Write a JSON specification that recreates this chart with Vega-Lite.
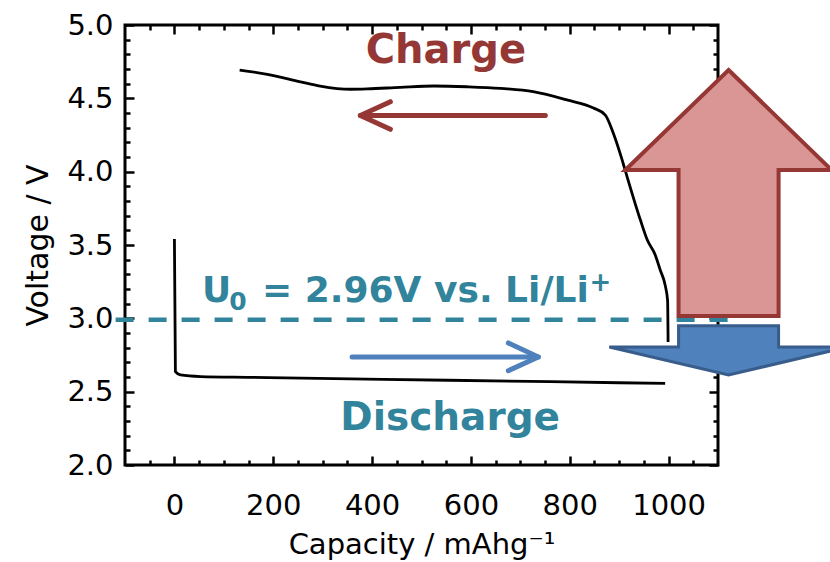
{
  "$schema": "https://vega.github.io/schema/vega-lite/v6.json",
  "autosize": "none",
  "width": 593,
  "height": 440,
  "padding": {"left": 125, "top": 25, "right": 112, "bottom": 97},
  "background": "white",
  "config": {
    "view": {"stroke": "black", "strokeWidth": 3},
    "axis": {"grid": false, "domain": false, "labelFlush": false, "labelOverlap": false, "labelBound": false}
  },
  "datasets": {
    "curves": [
      {"series": "charge", "i": 0, "cap": 132, "v": 4.693},
      {"series": "charge", "i": 1, "cap": 188, "v": 4.664},
      {"series": "charge", "i": 2, "cap": 255, "v": 4.613},
      {"series": "charge", "i": 3, "cap": 295, "v": 4.584},
      {"series": "charge", "i": 4, "cap": 356, "v": 4.562},
      {"series": "charge", "i": 5, "cap": 390, "v": 4.564},
      {"series": "charge", "i": 6, "cap": 457, "v": 4.575},
      {"series": "charge", "i": 7, "cap": 525, "v": 4.584},
      {"series": "charge", "i": 8, "cap": 592, "v": 4.579},
      {"series": "charge", "i": 9, "cap": 660, "v": 4.568},
      {"series": "charge", "i": 10, "cap": 726, "v": 4.545},
      {"series": "charge", "i": 11, "cap": 794, "v": 4.489},
      {"series": "charge", "i": 12, "cap": 848, "v": 4.434},
      {"series": "charge", "i": 13, "cap": 872, "v": 4.386},
      {"series": "charge", "i": 14, "cap": 888, "v": 4.264},
      {"series": "charge", "i": 15, "cap": 906, "v": 4.08},
      {"series": "charge", "i": 16, "cap": 913, "v": 4.0},
      {"series": "charge", "i": 17, "cap": 943, "v": 3.67},
      {"series": "charge", "i": 18, "cap": 957, "v": 3.534},
      {"series": "charge", "i": 19, "cap": 973, "v": 3.432},
      {"series": "charge", "i": 20, "cap": 983, "v": 3.33},
      {"series": "charge", "i": 21, "cap": 993, "v": 3.227},
      {"series": "charge", "i": 22, "cap": 998, "v": 3.12},
      {"series": "charge", "i": 23, "cap": 999, "v": 2.839},
      {"series": "discharge", "i": 0, "cap": 0, "v": 3.541},
      {"series": "discharge", "i": 1, "cap": 2, "v": 2.636},
      {"series": "discharge", "i": 2, "cap": 12, "v": 2.614},
      {"series": "discharge", "i": 3, "cap": 53, "v": 2.603},
      {"series": "discharge", "i": 4, "cap": 154, "v": 2.598},
      {"series": "discharge", "i": 5, "cap": 423, "v": 2.584},
      {"series": "discharge", "i": 6, "cap": 761, "v": 2.568},
      {"series": "discharge", "i": 7, "cap": 993, "v": 2.556}
    ],
    "upArrow": [
      {"i": 0, "cap": 1121.4, "v": 4.693},
      {"i": 1, "cap": 1330, "v": 4.011},
      {"i": 2, "cap": 1222.6, "v": 4.011},
      {"i": 3, "cap": 1222.6, "v": 3.016},
      {"i": 4, "cap": 1020.2, "v": 3.016},
      {"i": 5, "cap": 1020.2, "v": 4.011},
      {"i": 6, "cap": 912.4, "v": 4.011}
    ],
    "downArrow": [
      {"i": 0, "cap": 1020.2, "v": 2.95},
      {"i": 1, "cap": 1222.6, "v": 2.95},
      {"i": 2, "cap": 1222.6, "v": 2.805},
      {"i": 3, "cap": 1362.8, "v": 2.805},
      {"i": 4, "cap": 1121.4, "v": 2.614},
      {"i": 5, "cap": 880, "v": 2.805},
      {"i": 6, "cap": 1020.2, "v": 2.805}
    ],
    "chargeArrow": [
      {"part": "shaft", "i": 0, "cap": 750.6, "v": 4.383},
      {"part": "shaft", "i": 1, "cap": 376.3, "v": 4.383},
      {"part": "head", "i": 0, "cap": 437, "v": 4.477},
      {"part": "head", "i": 1, "cap": 376.3, "v": 4.383},
      {"part": "head", "i": 2, "cap": 437, "v": 4.289}
    ],
    "dischargeArrow": [
      {"part": "shaft", "i": 0, "cap": 359.5, "v": 2.737},
      {"part": "shaft", "i": 1, "cap": 736.4, "v": 2.737},
      {"part": "head", "i": 0, "cap": 675.7, "v": 2.832},
      {"part": "head", "i": 1, "cap": 736.4, "v": 2.737},
      {"part": "head", "i": 2, "cap": 675.7, "v": 2.643}
    ],
    "equilibrium": [{"from": -119, "to": 1141, "v": 2.99}]
  },
  "resolve": {"axis": {"x": "independent", "y": "independent"}},
  "layer": [
    {
      "data": {"name": "curves"},
      "mark": {"type": "line", "color": "black", "strokeWidth": 2.8, "strokeJoin": "round", "interpolate": "monotone"},
      "encoding": {
        "x": {"field": "cap", "type": "quantitative",
          "scale": {"domain": [-100, 1100], "nice": false, "zero": false},
          "axis": {"orient": "bottom", "values": [0, 200, 400, 600, 800, 1000], "format": "d", "ticks": false,
            "labelFont": "DejaVu Sans", "labelFontSize": 29, "labelColor": "black", "labelPadding": 26,
            "title": "Capacity / mAhg⁻¹", "titleFont": "DejaVu Sans", "titleFontSize": 29,
            "titleFontWeight": "normal", "titleColor": "black", "titlePadding": 10}},
        "y": {"field": "v", "type": "quantitative",
          "scale": {"domain": [2, 5], "nice": false, "zero": false},
          "axis": {"orient": "left", "values": [2, 2.5, 3, 3.5, 4, 4.5, 5], "format": ".1f", "ticks": false,
            "labelFont": "DejaVu Sans", "labelFontSize": 29, "labelColor": "black", "labelPadding": 12,
            "title": "Voltage / V", "titleFont": "DejaVu Sans", "titleFontSize": 30,
            "titleFontWeight": "normal", "titleColor": "black", "titlePadding": 13}},
        "detail": {"field": "series"},
        "order": {"field": "i", "type": "quantitative"}
      }
    },
    {
      "data": {"name": "equilibrium"},
      "mark": {"type": "rule", "color": "#31849B", "strokeWidth": 4.5, "strokeDash": [18, 15]},
      "encoding": {
        "x": {"field": "from", "type": "quantitative",
          "scale": {"domain": [-100, 1100], "nice": false, "zero": false},
          "axis": {"orient": "bottom", "values": [0, 200, 400, 600, 800, 1000], "labels": false,
            "ticks": true, "tickSize": -9, "tickWidth": 2.5, "tickColor": "black", "title": null}},
        "x2": {"field": "to"},
        "y": {"field": "v", "type": "quantitative",
          "scale": {"domain": [2, 5], "nice": false, "zero": false},
          "axis": {"orient": "left", "values": [2, 2.5, 3, 3.5, 4, 4.5, 5], "labels": false,
            "ticks": true, "tickSize": -9, "tickWidth": 2.5, "tickColor": "black", "title": null}}
      }
    },
    {
      "data": {"name": "upArrow"},
      "mark": {"type": "line", "interpolate": "linear-closed", "fill": "#D99694", "stroke": "#953735", "strokeWidth": 4, "strokeJoin": "miter"},
      "encoding": {
        "x": {"field": "cap", "type": "quantitative",
          "scale": {"domain": [-100, 1100], "nice": false, "zero": false},
          "axis": {"orient": "bottom", "values": [-50, 50, 100, 150, 250, 300, 350, 450, 500, 550, 650, 700, 750, 850, 900, 950, 1050], "labels": false,
            "ticks": true, "tickSize": -5, "tickWidth": 2.5, "tickColor": "black", "title": null}},
        "y": {"field": "v", "type": "quantitative",
          "scale": {"domain": [2, 5], "nice": false, "zero": false},
          "axis": {"orient": "left", "values": [2.1, 2.2, 2.3, 2.4, 2.6, 2.7, 2.8, 2.9, 3.1, 3.2, 3.3, 3.4, 3.6, 3.7, 3.8, 3.9, 4.1, 4.2, 4.3, 4.4, 4.6, 4.7, 4.8, 4.9], "labels": false,
            "ticks": true, "tickSize": -5, "tickWidth": 2.5, "tickColor": "black", "title": null}},
        "order": {"field": "i", "type": "quantitative"}
      }
    },
    {
      "data": {"name": "downArrow"},
      "mark": {"type": "line", "interpolate": "linear-closed", "fill": "#4F81BD", "stroke": "#385D8A", "strokeWidth": 3, "strokeJoin": "miter"},
      "encoding": {
        "x": {"field": "cap", "type": "quantitative",
          "scale": {"domain": [-100, 1100], "nice": false, "zero": false},
          "axis": {"orient": "top", "values": [0, 200, 400, 600, 800, 1000], "labels": false,
            "ticks": true, "tickSize": -9, "tickWidth": 2.5, "tickColor": "black", "title": null}},
        "y": {"field": "v", "type": "quantitative",
          "scale": {"domain": [2, 5], "nice": false, "zero": false},
          "axis": {"orient": "right", "values": [2, 2.5, 3, 3.5, 4, 4.5, 5], "labels": false,
            "ticks": true, "tickSize": -9, "tickWidth": 2.5, "tickColor": "black", "title": null}},
        "order": {"field": "i", "type": "quantitative"}
      }
    },
    {
      "data": {"name": "chargeArrow"},
      "mark": {"type": "line", "color": "#953735", "strokeWidth": 5, "strokeCap": "round", "strokeJoin": "round"},
      "encoding": {
        "x": {"field": "cap", "type": "quantitative",
          "scale": {"domain": [-100, 1100], "nice": false, "zero": false},
          "axis": {"orient": "top", "values": [-50, 50, 100, 150, 250, 300, 350, 450, 500, 550, 650, 700, 750, 850, 900, 950, 1050], "labels": false,
            "ticks": true, "tickSize": -5, "tickWidth": 2.5, "tickColor": "black", "title": null}},
        "y": {"field": "v", "type": "quantitative",
          "scale": {"domain": [2, 5], "nice": false, "zero": false},
          "axis": {"orient": "right", "values": [2.1, 2.2, 2.3, 2.4, 2.6, 2.7, 2.8, 2.9, 3.1, 3.2, 3.3, 3.4, 3.6, 3.7, 3.8, 3.9, 4.1, 4.2, 4.3, 4.4, 4.6, 4.7, 4.8, 4.9], "labels": false,
            "ticks": true, "tickSize": -5, "tickWidth": 2.5, "tickColor": "black", "title": null}},
        "detail": {"field": "part"},
        "order": {"field": "i", "type": "quantitative"}
      }
    },
    {
      "data": {"name": "dischargeArrow"},
      "mark": {"type": "line", "color": "#4F81BD", "strokeWidth": 5, "strokeCap": "round", "strokeJoin": "round"},
      "encoding": {
        "x": {"field": "cap", "type": "quantitative", "scale": {"domain": [-100, 1100], "nice": false, "zero": false}, "axis": null},
        "y": {"field": "v", "type": "quantitative", "scale": {"domain": [2, 5], "nice": false, "zero": false}, "axis": null},
        "detail": {"field": "part"},
        "order": {"field": "i", "type": "quantitative"}
      }
    },
    {
      "data": {"values": [{"label": "Charge", "cap": 549.3, "v": 4.741}]},
      "mark": {"type": "text", "font": "DejaVu Sans", "fontWeight": "bold", "fontSize": 40, "color": "#953735", "align": "center", "baseline": "alphabetic"},
      "encoding": {
        "x": {"field": "cap", "type": "quantitative", "scale": {"domain": [-100, 1100], "nice": false, "zero": false}, "axis": null},
        "y": {"field": "v", "type": "quantitative", "scale": {"domain": [2, 5], "nice": false, "zero": false}, "axis": null},
        "text": {"field": "label"}
      }
    },
    {
      "data": {"values": [{"label": "Discharge", "cap": 558, "v": 2.239}]},
      "mark": {"type": "text", "font": "DejaVu Sans", "fontWeight": "bold", "fontSize": 39, "color": "#31849B", "align": "center", "baseline": "alphabetic"},
      "encoding": {
        "x": {"field": "cap", "type": "quantitative", "scale": {"domain": [-100, 1100], "nice": false, "zero": false}, "axis": null},
        "y": {"field": "v", "type": "quantitative", "scale": {"domain": [2, 5], "nice": false, "zero": false}, "axis": null},
        "text": {"field": "label"}
      }
    },
    {
      "data": {"values": [
        {"label": "U", "cap": 56, "v": 3.113},
        {"label": "= 2.96V vs. Li/Li", "cap": 177.4, "v": 3.113}
      ]},
      "mark": {"type": "text", "font": "DejaVu Sans", "fontWeight": "bold", "fontSize": 36, "color": "#31849B", "align": "left", "baseline": "alphabetic"},
      "encoding": {
        "x": {"field": "cap", "type": "quantitative", "scale": {"domain": [-100, 1100], "nice": false, "zero": false}, "axis": null},
        "y": {"field": "v", "type": "quantitative", "scale": {"domain": [2, 5], "nice": false, "zero": false}, "axis": null},
        "text": {"field": "label"}
      }
    },
    {
      "data": {"values": [{"label": "0", "cap": 111, "v": 3.057}]},
      "mark": {"type": "text", "font": "DejaVu Sans", "fontWeight": "bold", "fontSize": 25, "color": "#31849B", "align": "left", "baseline": "alphabetic"},
      "encoding": {
        "x": {"field": "cap", "type": "quantitative", "scale": {"domain": [-100, 1100], "nice": false, "zero": false}, "axis": null},
        "y": {"field": "v", "type": "quantitative", "scale": {"domain": [2, 5], "nice": false, "zero": false}, "axis": null},
        "text": {"field": "label"}
      }
    },
    {
      "data": {"values": [{"label": "+", "cap": 862, "v": 3.186}]},
      "mark": {"type": "text", "font": "DejaVu Sans", "fontWeight": "bold", "fontSize": 26, "color": "#31849B", "align": "center", "baseline": "alphabetic"},
      "encoding": {
        "x": {"field": "cap", "type": "quantitative", "scale": {"domain": [-100, 1100], "nice": false, "zero": false}, "axis": null},
        "y": {"field": "v", "type": "quantitative", "scale": {"domain": [2, 5], "nice": false, "zero": false}, "axis": null},
        "text": {"field": "label"}
      }
    }
  ]
}
